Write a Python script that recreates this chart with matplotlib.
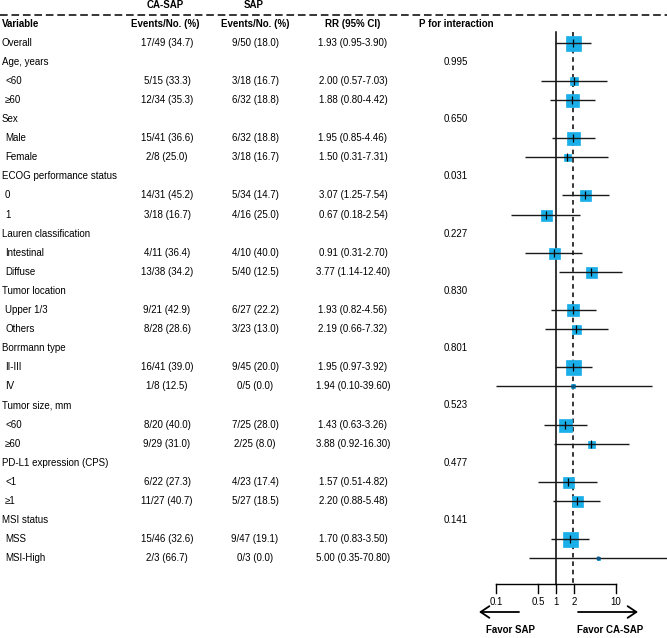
import matplotlib.pyplot as plt
import numpy as np

plt.rcParams['font.family'] = ['Liberation Sans', 'DejaVu Sans']

# table data
variables = ['Overall', 'Age, years', '<60', '≥60', 'Sex', 'Male', 'Female',
             'ECOG performance status', '0', '1', 'Lauren classification',
             'Intestinal', 'Diffuse', 'Tumor location', 'Upper 1/3', 'Others',
             'Borrmann type', 'II-III', 'IV', 'Tumor size, mm', '<60', '≥60',
             'PD-L1 expression (CPS)', '<1', '≥1', 'MSI status', 'MSS', 'MSI-High']
is_group = [False, True, False, False, True, False, False, True, False, False, True,
            False, False, True, False, False, True, False, False, True, False, False,
            True, False, False, True, False, False]
ca_sap = ['17/49 (34.7)', None, '5/15 (33.3)', '12/34 (35.3)', None, '15/41 (36.6)', '2/8 (25.0)',
          None, '14/31 (45.2)', '3/18 (16.7)', None, '4/11 (36.4)', '13/38 (34.2)',
          None, '9/21 (42.9)', '8/28 (28.6)', None, '16/41 (39.0)', '1/8 (12.5)',
          None, '8/20 (40.0)', '9/29 (31.0)', None, '6/22 (27.3)', '11/27 (40.7)',
          None, '15/46 (32.6)', '2/3 (66.7)']
sap = ['9/50 (18.0)', None, '3/18 (16.7)', '6/32 (18.8)', None, '6/32 (18.8)', '3/18 (16.7)',
       None, '5/34 (14.7)', '4/16 (25.0)', None, '4/10 (40.0)', '5/40 (12.5)',
       None, '6/27 (22.2)', '3/23 (13.0)', None, '9/45 (20.0)', '0/5 (0.0)',
       None, '7/25 (28.0)', '2/25 (8.0)', None, '4/23 (17.4)', '5/27 (18.5)',
       None, '9/47 (19.1)', '0/3 (0.0)']
rr = [1.93, None, 2.00, 1.88, None, 1.95, 1.50, None, 3.07, 0.67, None, 0.91, 3.77,
      None, 1.93, 2.19, None, 1.95, 1.94, None, 1.43, 3.88, None, 1.57, 2.20, None, 1.70, 5.00]
lo = [0.95, None, 0.57, 0.80, None, 0.85, 0.31, None, 1.25, 0.18, None, 0.31, 1.14,
      None, 0.82, 0.66, None, 0.97, 0.10, None, 0.63, 0.92, None, 0.51, 0.88, None, 0.83, 0.35]
hi = [3.90, None, 7.03, 4.42, None, 4.46, 7.31, None, 7.54, 2.54, None, 2.70, 12.40,
      None, 4.56, 7.32, None, 3.92, 39.60, None, 3.26, 16.30, None, 4.82, 5.48, None, 3.50, 70.80]
rr_text = ['1.93 (0.95-3.90)', None, '2.00 (0.57-7.03)', '1.88 (0.80-4.42)', None,
           '1.95 (0.85-4.46)', '1.50 (0.31-7.31)', None, '3.07 (1.25-7.54)', '0.67 (0.18-2.54)',
           None, '0.91 (0.31-2.70)', '3.77 (1.14-12.40)', None, '1.93 (0.82-4.56)',
           '2.19 (0.66-7.32)', None, '1.95 (0.97-3.92)', '1.94 (0.10-39.60)', None,
           '1.43 (0.63-3.26)', '3.88 (0.92-16.30)', None, '1.57 (0.51-4.82)',
           '2.20 (0.88-5.48)', None, '1.70 (0.83-3.50)', '5.00 (0.35-70.80)']
p_int = [None, '0.995', None, None, '0.650', None, None, '0.031', None, None, '0.227',
         None, None, '0.830', None, None, '0.801', None, None, '0.523', None, None,
         '0.477', None, None, '0.141', None, None]
# box size (weight), in pixels
box_px = [15, None, 8, 13, None, 13, 7, None, 11, 11, None, 11, 11, None, 12, 9, None,
          15, 4, None, 13, 7, None, 11, 11, None, 15, 3]
overall_rr = 1.93
ticks = [0.1, 0.5, 1, 2, 10]

blue = '#1AAFE8'
fs = 7

fig = plt.figure(figsize=(6.67, 6.38), dpi=100)
ax = fig.add_axes([0, 0, 1, 1])
ax.set_xlim(0, 667)
ax.set_ylim(638, 0)
ax.axis('off')

fax = fig.add_axes([460 / 667, 0, 207 / 667, 1])
fax.set_xscale('log')
fax.set_xlim(10 ** -1.6, 10 ** 1.85)
fax.set_ylim(638, 0)
fax.axis('off')

y0, dy = 42.7, 19.09
ys = [y0 + i * dy for i in range(len(variables))]

# header
ax.text(165, 5, 'CA-SAP', ha='center', va='center', fontsize=fs, fontweight='bold')
ax.text(254, 5, 'SAP', ha='center', va='center', fontsize=fs, fontweight='bold')
ax.plot([0, 667], [15, 15], color='black', lw=1.1, ls=(0, (5, 2.5)))
ax.text(2, 24, 'Variable', ha='left', va='center', fontsize=fs, fontweight='bold')
ax.text(165, 24, 'Events/No. (%)', ha='center', va='center', fontsize=fs, fontweight='bold')
ax.text(255, 24, 'Events/No. (%)', ha='center', va='center', fontsize=fs, fontweight='bold')
ax.text(353, 24, 'RR (95% CI)', ha='center', va='center', fontsize=fs, fontweight='bold')
ax.text(456, 24, 'P for interaction', ha='center', va='center', fontsize=fs, fontweight='bold')

for i, y in enumerate(ys):
    xl = 2 if (is_group[i] or i == 0) else 5
    ax.text(xl, y, variables[i], ha='left', va='center', fontsize=fs)
    if ca_sap[i]:
        ax.text(167, y, ca_sap[i], ha='center', va='center', fontsize=fs)
        ax.text(255, y, sap[i], ha='center', va='center', fontsize=fs)
        ax.text(353, y, rr_text[i], ha='center', va='center', fontsize=fs)
    if p_int[i]:
        ax.text(456, y, p_int[i], ha='center', va='center', fontsize=fs)

# reference lines
axis_y = 584
fax.plot([1, 1], [32, axis_y], color='black', lw=1.1)
fax.plot([overall_rr, overall_rr], [32, axis_y], color='black', lw=1.1, ls=(0, (3, 2.5)))

for i, y in enumerate(ys):
    if rr[i] is None:
        continue
    fax.plot(rr[i], y, marker='s', ms=box_px[i] * 0.72, color=blue, mec=blue, mew=0.5)
    fax.plot([lo[i], hi[i]], [y, y], color='#1a1a1a', lw=1.0, solid_capstyle='butt')
    if box_px[i] > 4:
        fax.plot(rr[i], y, marker='|', ms=6, color='black', mew=0.9)
    else:
        fax.plot(rr[i], y, marker='o', ms=3, color='#0b5a8a', mew=0)

# x axis
fax.plot([ticks[0], ticks[-1]], [axis_y, axis_y], color='black', lw=1.0)
for t in ticks:
    fax.plot([t, t], [axis_y, axis_y + 9], color='black', lw=1.0)
    fax.text(t, axis_y + 18, f'{t:g}', ha='center', va='center', fontsize=fs)

arrow = dict(arrowstyle='->,head_length=0.45,head_width=0.3', lw=1.3,
             color='black', mutation_scale=14, shrinkA=0, shrinkB=0)
ax.annotate('', xy=(479, 612), xytext=(519, 612), arrowprops=arrow)
ax.annotate('', xy=(638, 612), xytext=(578, 612), arrowprops=arrow)
ax.text(510, 630, 'Favor SAP', ha='center', va='center', fontsize=fs, fontweight='bold')
ax.text(610, 630, 'Favor CA-SAP', ha='center', va='center', fontsize=fs, fontweight='bold')

fig.savefig('out.png', dpi=100)
